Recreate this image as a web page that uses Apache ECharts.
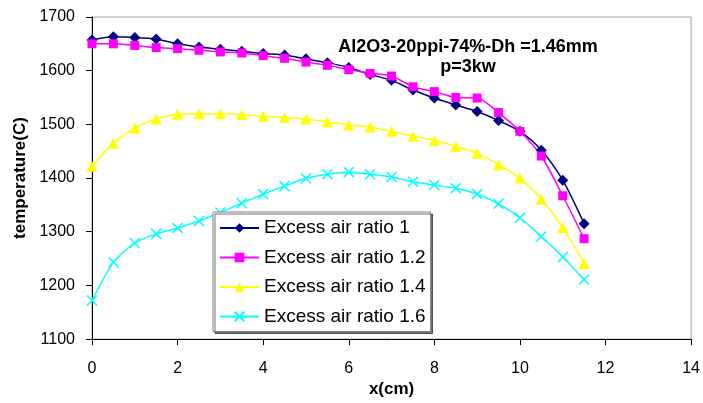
<!DOCTYPE html>
<html>
<head>
<meta charset="utf-8">
<script src="https://cdn.jsdelivr.net/npm/echarts@6/dist/echarts.min.js"></script>
<style>
  html, body { margin: 0; padding: 0; background: #fff; }
  #chart { width: 703px; height: 403px; }
</style>
</head>
<body>
<div id="chart"></div>
<script>
// x positions (cm)
const xs = [0, 0.5, 1, 1.5, 2, 2.5, 3, 3.5, 4, 4.5, 5, 5.5, 6, 6.5, 7, 7.5, 8, 8.5, 9, 9.5, 10, 10.5, 11, 11.5];
// temperature (C) per excess air ratio
const ratio10 = [1657, 1663, 1662, 1659, 1650, 1644, 1640, 1636, 1632, 1629, 1622, 1615, 1606, 1593, 1582, 1564, 1549, 1536, 1524, 1507, 1487, 1452, 1396, 1315];
const ratio12 = [1650, 1650, 1647, 1643, 1641, 1638, 1635, 1633, 1628, 1623, 1616, 1610, 1602, 1595, 1590, 1570, 1561, 1550, 1549, 1522, 1487, 1441, 1367, 1287];
const ratio14 = [1422, 1465, 1493, 1510, 1519, 1520, 1520, 1518, 1515, 1513, 1510, 1505, 1499, 1495, 1487, 1478, 1470, 1459, 1446, 1425, 1400, 1361, 1308, 1241];
const ratio16 = [1172, 1243, 1279, 1296, 1307, 1320, 1336, 1353, 1370, 1385, 1399, 1407, 1411, 1407, 1402, 1393, 1387, 1381, 1370, 1352, 1326, 1291, 1253, 1211];
const names = ['Excess air ratio 1', 'Excess air ratio 1.2', 'Excess air ratio 1.4', 'Excess air ratio 1.6'];

const font = 'Liberation Sans';
const pairs = arr => xs.map((x, i) => [x, arr[i]]);

function lineSeries(name, arr, color, symbol, size, extra) {
    return Object.assign({
        name: name,
        type: 'line',
        smooth: 0.25,
        data: pairs(arr),
        symbol: symbol,
        symbolSize: size,
        showAllSymbol: true,
        lineStyle: { color: color, width: 1.5 },
        itemStyle: { color: color, borderWidth: 0 }
    }, extra || {});
}

const chart = echarts.init(document.getElementById('chart'));
chart.setOption({
    animation: false,
    title: {
        text: 'Al2O3-20ppi-74%-Dh =1.46mm\np=3kw',
        left: 468,
        top: 37,
        padding: 0,
        textAlign: 'center',
        textStyle: { fontFamily: font, fontSize: 18, fontWeight: 'bold', lineHeight: 20, color: '#000' }
    },
    grid: {
        left: 92, right: 9.5, top: 17, bottom: 56.5,
        show: true, borderColor: '#a0a0a0', borderWidth: 1, backgroundColor: '#fff'
    },
    legend: {
        orient: 'vertical',
        left: 213, top: 212,
        padding: [6, 5, 5, 6],
        itemWidth: 39, itemHeight: 12, itemGap: 9.5,
        backgroundColor: '#fff',
        borderColor: '#808080', borderWidth: 1,
        shadowColor: 'rgba(0,0,0,0.55)', shadowOffsetX: 2, shadowOffsetY: 2, shadowBlur: 0,
        textStyle: { fontFamily: font, fontSize: 19, lineHeight: 20, color: '#000' },
        data: names
    },
    xAxis: {
        type: 'value',
        min: 0, max: 14, interval: 2,
        name: 'x(cm)',
        nameLocation: 'middle',
        nameGap: 41,
        nameTextStyle: { fontFamily: font, fontSize: 17, fontWeight: 'bold', color: '#000' },
        axisLine: { lineStyle: { color: '#000', width: 1 } },
        axisTick: { inside: false, length: 6, lineStyle: { color: '#000' } },
        axisLabel: { margin: 21, fontFamily: font, fontSize: 16, color: '#000' },
        splitLine: { show: false }
    },
    yAxis: {
        type: 'value',
        min: 1100, max: 1700, interval: 100,
        name: 'temperature(C)',
        nameLocation: 'middle',
        nameGap: 55,
        nameTextStyle: { fontFamily: font, fontSize: 17, fontWeight: 'bold', color: '#000' },
        axisLine: { show: true, lineStyle: { color: '#000', width: 1 } },
        axisTick: { show: true, inside: false, length: 6, lineStyle: { color: '#000' } },
        axisLabel: { margin: 17, fontFamily: font, fontSize: 16, color: '#000', formatter: v => String(v) },
        splitLine: { show: false }
    },
    series: [
        lineSeries(names[0], ratio10, '#000080', 'diamond', 11),
        lineSeries(names[1], ratio12, '#ff00ff', 'rect', 9),
        lineSeries(names[2], ratio14, '#ffff00', 'triangle', 11),
        lineSeries(names[3], ratio16, '#00ffff', 'path://M0,0L10,10M10,0L0,10', 10, {
            itemStyle: { color: '#00ffff', borderColor: '#00ffff', borderWidth: 1.5 }
        })
    ]
});
</script>
</body>
</html>
